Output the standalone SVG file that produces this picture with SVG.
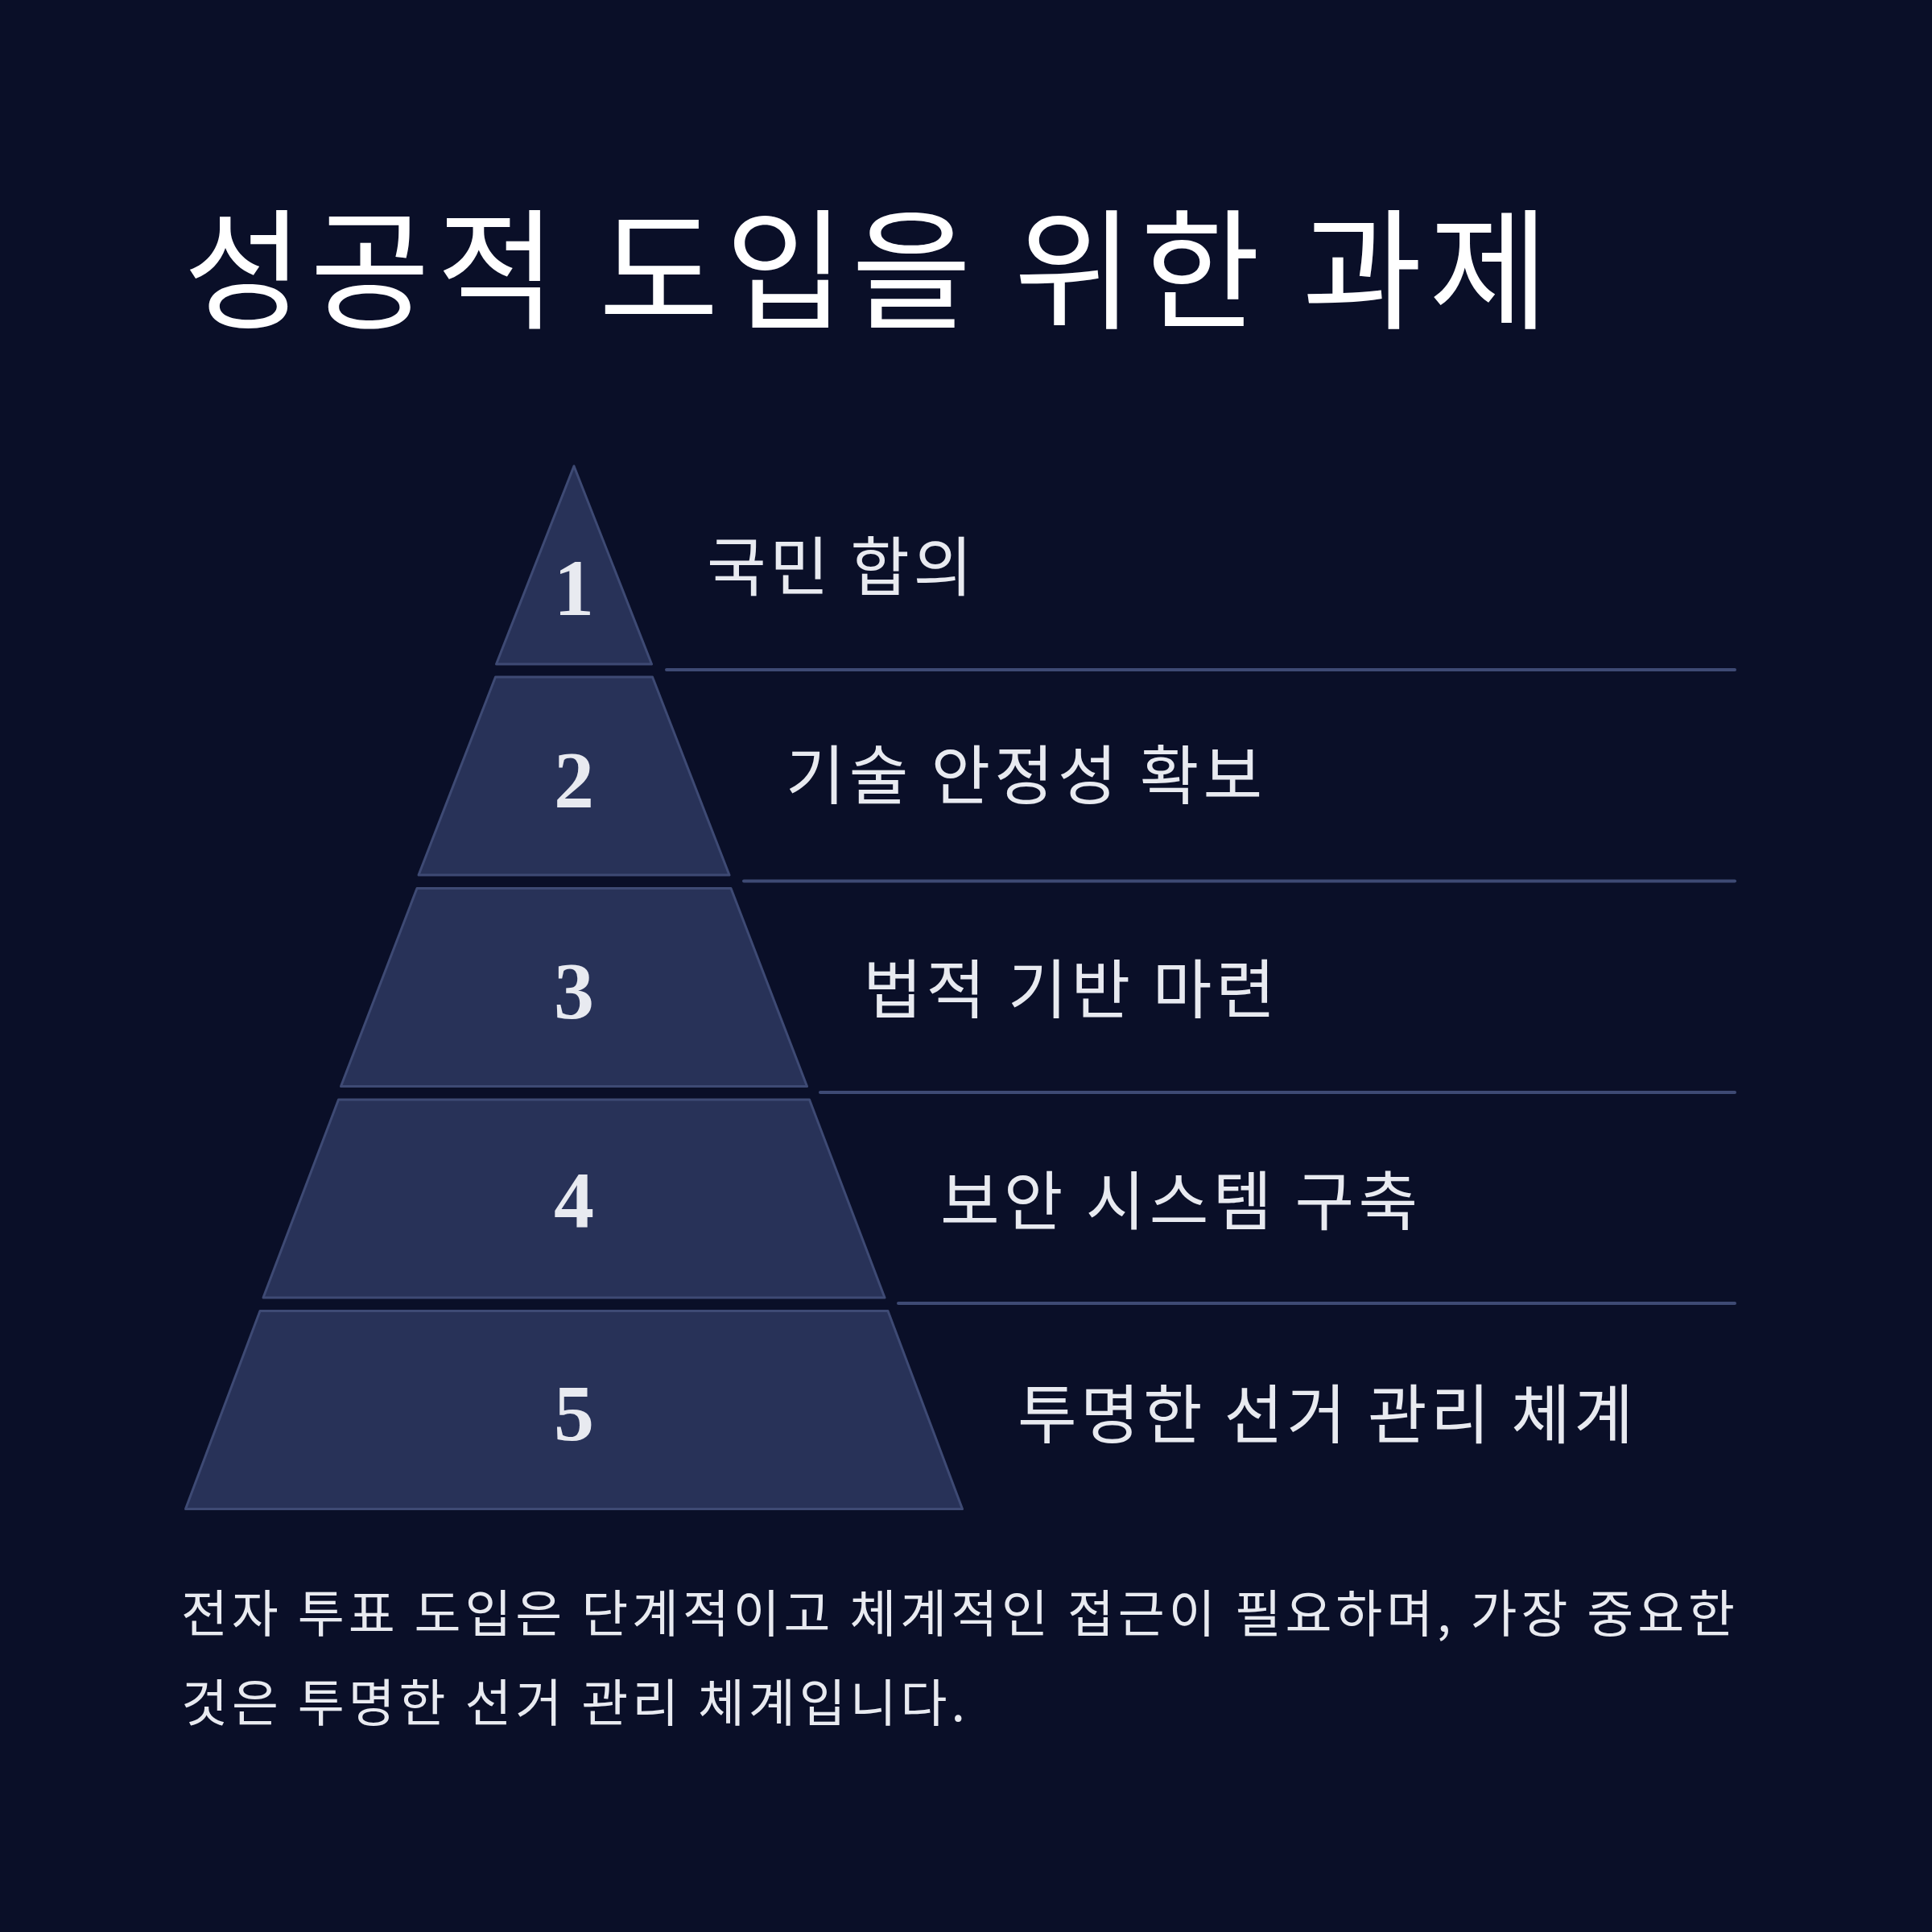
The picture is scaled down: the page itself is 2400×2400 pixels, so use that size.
<svg xmlns="http://www.w3.org/2000/svg" width="2400" height="2400" viewBox="0 0 2400 2400">
<style>
.layer{fill:#283258;stroke:#3e4a74;stroke-width:3;stroke-linejoin:round}
.num{font-family:"Liberation Serif","DejaVu Serif",serif;font-weight:700;font-size:100px;fill:#e8eaf0;text-anchor:middle}
.lbl{font-family:"Noto Sans CJK KR","Noto Sans",sans-serif;font-size:80px;fill:#e8eaf0}
.title{font-family:"Noto Sans CJK KR","Noto Sans",sans-serif;font-size:162px;fill:#ffffff}
.para{font-family:"Noto Sans CJK KR","Noto Sans",sans-serif;font-size:63px;fill:#e8eaf0}
.sep{stroke:#3e4a74;stroke-width:4;stroke-linecap:round;fill:none}
</style>
<rect x="0" y="0" width="2400" height="2400" fill="#0a0f28"/>
<text id="title" class="title" x="228" y="396" textLength="1696" lengthAdjust="spacing">성공적 도입을 위한 과제</text>
<g id="connectors">
<line class="sep" x1="828" y1="832" x2="2155" y2="832"/>
<line class="sep" x1="924" y1="1094.5" x2="2155" y2="1094.5"/>
<line class="sep" x1="1019" y1="1357" x2="2155" y2="1357"/>
<line class="sep" x1="1116" y1="1619" x2="2155" y2="1619"/>
</g>
<g id="layer1">
<polygon class="layer" points="713,579 809.5,825 616.5,825"/>
<text class="num" x="713" y="764">1</text>
<text class="lbl" x="878" y="733" textLength="330" lengthAdjust="spacing">국민 합의</text>
</g>
<g id="layer2">
<polygon class="layer" points="615.5,841 810.5,841 906,1087 520,1087"/>
<text class="num" x="713" y="1002">2</text>
<text class="lbl" x="976" y="992" textLength="592" lengthAdjust="spacing">기술 안정성 확보</text>
</g>
<g id="layer3">
<polygon class="layer" points="518,1103.5 908,1103.5 1002.5,1349.5 423.5,1349.5"/>
<text class="num" x="713" y="1264">3</text>
<text class="lbl" x="1072" y="1258" textLength="512" lengthAdjust="spacing">법적 기반 마련</text>
</g>
<g id="layer4">
<polygon class="layer" points="420.5,1366 1005.5,1366 1099,1612 327,1612"/>
<text class="num" x="713" y="1524">4</text>
<text class="lbl" x="1168" y="1521" textLength="593" lengthAdjust="spacing">보안 시스템 구축</text>
</g>
<g id="layer5">
<polygon class="layer" points="323,1628.5 1103,1628.5 1195.5,1874.5 230.5,1874.5"/>
<text class="num" x="713" y="1789">5</text>
<text class="lbl" x="1264" y="1786" textLength="765" lengthAdjust="spacing">투명한 선거 관리 체계</text>
</g>
<g id="summary">
<text class="para" x="225" y="2027" textLength="1930" lengthAdjust="spacing">전자 투표 도입은 단계적이고 체계적인 접근이 필요하며, 가장 중요한</text>
<text class="para" x="225" y="2138" textLength="974" lengthAdjust="spacing">것은 투명한 선거 관리 체계입니다.</text>
</g>
</svg>
